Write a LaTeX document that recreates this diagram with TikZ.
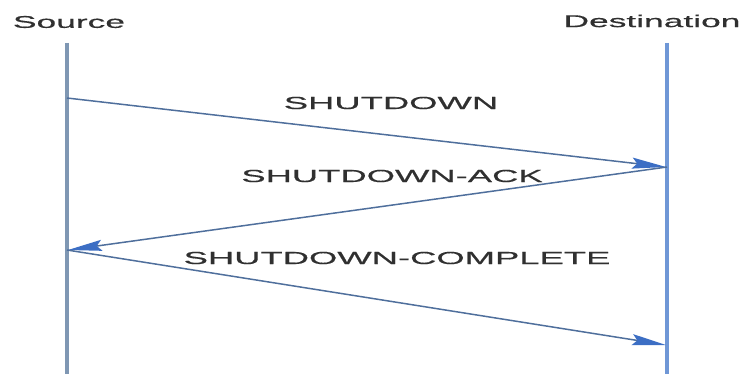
\documentclass[tikz,border=0pt]{standalone}
\usepackage{fontspec}
\usetikzlibrary{arrows.meta}
\newfontfamily\msgfont[FakeStretch=2.08, FakeBold=0.6]{Liberation Sans}
\definecolor{lifeL}{HTML}{7F97B3}
\definecolor{lifeR}{HTML}{6F97D6}
\definecolor{msgline}{HTML}{4F6F9C}
\definecolor{msghead}{HTML}{3C6EC4}
\definecolor{txt}{HTML}{303030}
\tikzset{
  party/.style={inner sep=0pt, text=txt, font=\msgfont\fontsize{17}{20}\selectfont},
  msglabel/.style={inner sep=0pt, text=txt, font=\msgfont\fontsize{17.5}{20}\selectfont},
  lifeline/.style={line width=3.2pt},
  message/.style={draw=msgline, line width=1.5pt,
    -{Stealth[length=34pt, width=11pt, inset=5pt, fill=msghead, color=msghead]}},
}
\begin{document}
\begin{tikzpicture}[x=1pt, y=-1pt]
  \useasboundingbox (0,0) rectangle (751,374);
  % participants
  \node[party] (src) at (69,22) {Source};
  \node[party] (dst) at (652,21) {Destination};
  % lifelines
  \coordinate (srcTop) at (67,43);
  \coordinate (srcBot) at (67,374);
  \coordinate (dstTop) at (667,43);
  \coordinate (dstBot) at (667,374);
  \draw[lifeline, lifeL] (srcTop) -- (srcBot);
  \draw[lifeline, lifeR] (dstTop) -- (dstBot);
  % message end points
  \coordinate (m1s) at (67,98);
  \coordinate (m1e) at (666,167);
  \coordinate (m2s) at (667,167);
  \coordinate (m2e) at (68,250);
  \coordinate (m3s) at (67,250);
  \coordinate (m3e) at (666,345);
  % messages
  \draw[message] (m1s) -- (m1e);
  \draw[message] (m2s) -- (m2e);
  \draw[message] (m3s) -- (m3e);
  % labels
  \node[msglabel] (l1) at (391,103) {SHUTDOWN};
  \node[msglabel] (l2) at (392,176) {SHUTDOWN-ACK};
  \node[msglabel] (l3) at (397,258) {SHUTDOWN-COMPLETE};
\end{tikzpicture}
\end{document}
